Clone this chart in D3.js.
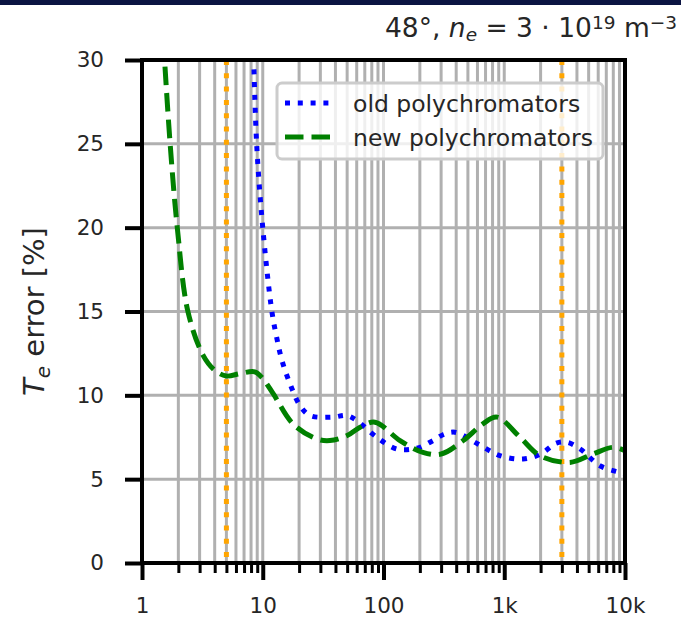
<!DOCTYPE html>
<html>
<head>
<meta charset="utf-8">
<script src="https://cdn.jsdelivr.net/npm/d3@7"></script>
<style>
  body { margin: 0; background: #fff; }
  svg { display: block; font-family: "DejaVu Sans", sans-serif; }
</style>
</head>
<body>
<svg id="canvas" width="681" height="623"></svg>
<script>
// curve values: [x, Te error %]
var oldPoly = [[8.4, 30.2], [8.9, 25], [10, 20], [11.9, 15], [13, 13.5], [14.4, 12.1], [16.8, 10.7],
  [20.3, 9.4], [24.6, 8.8], [38, 8.7], [49.5, 8.8], [60, 8.5], [88, 7.5], [129, 6.8], [190, 6.85],
  [257, 7.3], [311, 7.65], [390, 7.8], [605, 7.1], [920, 6.4], [1430, 6.2], [2000, 6.5],
  [2700, 7.15], [3300, 7.2], [4260, 6.8], [6200, 5.8], [9100, 5.4], [10000, 5.3]];
var newPoly = [[1.55, 29.6], [1.71, 25], [1.96, 20], [2.4, 15], [3.2, 12.4], [4.0, 11.5], [5.0, 11.15],
  [6.5, 11.3], [8.6, 11.4], [10, 11.0], [12.2, 10.1], [17.8, 8.3], [28, 7.4], [36, 7.3], [50, 7.6],
  [64, 8.1], [85, 8.4], [137, 7.3], [212, 6.6], [300, 6.5], [457, 7.3], [666, 8.3], [871, 8.7],
  [1350, 7.5], [1980, 6.4], [3500, 6.0], [5430, 6.5], [7950, 6.9], [10000, 6.7]];
var markerLines = [5, 3000];

var xMajor = [1, 10, 100, 1000, 10000];
var xLabels = ["1", "10", "100", "1k", "10k"];
var yTicks = [0, 5, 10, 15, 20, 25, 30];

var seriesNames = ["old polychromators", "new polychromators"];

var svg = d3.select("#canvas"),
  width = +svg.attr("width"),
  height = +svg.attr("height");

var margin = {left: 142, right: 56, top: 60, bottom: 60};
var pw = width - margin.left - margin.right;
var ph = height - margin.top - margin.bottom;

// dark strip at the very top (slide background)
svg.append("rect").attr("x", 0).attr("y", 0).attr("width", width).attr("height", 5).attr("fill", "#0b1442");

var x = d3.scaleLog().domain([1, 10000]).range([0, pw]);
var y = d3.scaleLinear().domain([0, 30]).range([ph, 0]);

// minor ticks 2..9 in each decade
var xMinor = [];
xMajor.slice(0, -1).forEach(function(d) {
  for (var k = 2; k < 10; k++) xMinor.push(d * k);
});

var g = svg.append("g").attr("transform", "translate(" + margin.left + "," + margin.top + ")");

g.append("clipPath").attr("id", "clip")
  .append("rect").attr("width", pw).attr("height", ph);

// grid
var grid = g.append("g").attr("stroke", "#b0b0b0").attr("stroke-width", 3);
grid.selectAll(".gx").data(xMajor.concat(xMinor)).enter().append("line")
  .attr("x1", function(d) { return x(d); }).attr("x2", function(d) { return x(d); })
  .attr("y1", 0).attr("y2", ph);
grid.selectAll(".gy").data(yTicks).enter().append("line")
  .attr("x1", 0).attr("x2", pw)
  .attr("y1", function(d) { return y(d); }).attr("y2", function(d) { return y(d); });

var plot = g.append("g").attr("clip-path", "url(#clip)");

// orange reference lines
plot.selectAll(".mark").data(markerLines).enter().append("line")
  .attr("x1", function(d) { return x(d); }).attr("x2", function(d) { return x(d); })
  .attr("y1", 0).attr("y2", ph)
  .attr("stroke", "orange").attr("stroke-width", 5).attr("stroke-dasharray", "5,8.3");

var line = d3.line()
  .x(function(d) { return x(d[0]); })
  .y(function(d) { return y(d[1]); })
  .curve(d3.curveCatmullRom.alpha(0.5));

plot.append("path").datum(oldPoly).attr("d", line)
  .attr("fill", "none").attr("stroke", "blue").attr("stroke-width", 5)
  .attr("stroke-dasharray", "5,7.8");
plot.append("path").datum(newPoly).attr("d", line)
  .attr("fill", "none").attr("stroke", "green").attr("stroke-width", 5)
  .attr("stroke-dasharray", "18.5,8");

// axes
var xAxis = g.append("g").attr("transform", "translate(0," + ph + ")")
  .call(d3.axisBottom(x).tickValues(xMajor).tickFormat(function(d, i) { return xLabels[i]; })
    .tickSizeInner(17).tickSizeOuter(0).tickPadding(18));
var xMinorAxis = g.append("g").attr("transform", "translate(0," + ph + ")")
  .call(d3.axisBottom(x).tickValues(xMinor).tickFormat("").tickSizeInner(10).tickSizeOuter(0));
var yAxis = g.append("g")
  .call(d3.axisLeft(y).tickValues(yTicks).tickSizeInner(17).tickSizeOuter(0).tickPadding(21));

[xAxis, xMinorAxis, yAxis].forEach(function(a) {
  a.select(".domain").remove();
  a.selectAll("text").attr("font-size", 21.5).attr("fill", "#262626").attr("font-family", "DejaVu Sans");
});
xAxis.selectAll("line").attr("stroke", "#000").attr("stroke-width", 4);
yAxis.selectAll("line").attr("stroke", "#000").attr("stroke-width", 4);
xMinorAxis.selectAll("line").attr("stroke", "#000").attr("stroke-width", 3);

// frame
g.append("rect").attr("width", pw).attr("height", ph)
  .attr("fill", "none").attr("stroke", "#000").attr("stroke-width", 4);

// legend
var legend = svg.append("g").attr("transform", "translate(277,83)");
legend.append("rect").attr("width", 326).attr("height", 76).attr("rx", 5)
  .attr("fill", "#fff").attr("fill-opacity", 0.8)
  .attr("stroke", "#cccccc").attr("stroke-width", 3);
var legStyles = [{c: "blue", dash: "5,7.8"}, {c: "green", dash: "18.5,8"}];
seriesNames.forEach(function(name, i) {
  var cy = 20 + i * 34;
  legend.append("line").attr("x1", 8).attr("x2", 53).attr("y1", cy).attr("y2", cy)
    .attr("stroke", legStyles[i].c).attr("stroke-width", 5).attr("stroke-dasharray", legStyles[i].dash);
  legend.append("text").attr("x", 76).attr("y", cy + 8.5).attr("font-size", 23.5).attr("fill", "#262626")
    .text(name);
});

// y label
var yl = svg.append("text").attr("transform", "translate(44," + (margin.top + ph / 2) + ") rotate(-90)")
  .attr("text-anchor", "middle").attr("font-size", 29).attr("fill", "#262626");
yl.append("tspan").attr("font-style", "italic").text("T");
yl.append("tspan").attr("font-style", "italic").attr("font-size", 20).attr("dy", 6).text("e");
yl.append("tspan").attr("dy", -6).text(" error [%]");

// title
var t = svg.append("text").attr("x", 677).attr("y", 37).attr("text-anchor", "end")
  .attr("font-size", 26.5).attr("fill", "#262626");
t.append("tspan").text("48°, ");
t.append("tspan").attr("font-style", "italic").text("n");
t.append("tspan").attr("font-style", "italic").attr("font-size", 18.5).attr("dy", 4).text("e");
t.append("tspan").attr("dy", -4).text(" = 3 · 10");
t.append("tspan").attr("font-size", 18.5).attr("dy", -8).text("19");
t.append("tspan").attr("dy", 8).text(" m");
t.append("tspan").attr("font-size", 18.5).attr("dy", -8).text("−3");
</script>
</body>
</html>
